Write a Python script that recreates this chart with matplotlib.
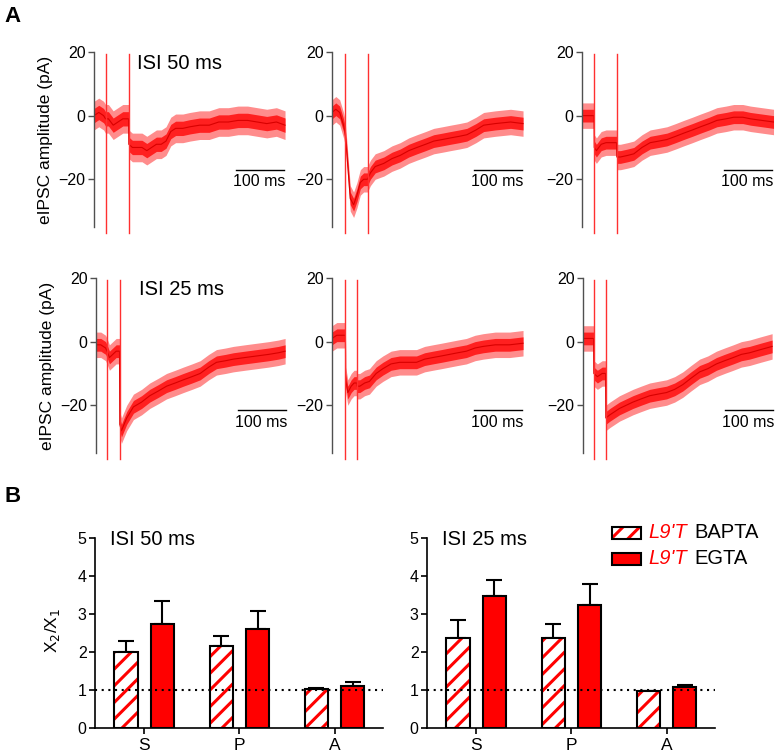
import numpy as np
import matplotlib
matplotlib.use("Agg")
import matplotlib.pyplot as plt
from matplotlib.patches import Rectangle

plt.rcParams['font.family'] = ['Liberation Sans', 'DejaVu Sans']
plt.rcParams['hatch.linewidth'] = 2.2

# --- Panel A: eIPSC traces (mean line + noise half-width) ---
trace_t = [
    [0, 10, 20, 24, 30, 40, 50, 60, 72, 72.5, 80, 90, 100, 110, 120, 130, 140, 150, 160, 170,
     185, 200, 220, 240, 260, 280, 300, 320, 340, 360, 380, 398],
    [0, 8, 16, 24, 27, 31, 38, 45, 52, 59, 66, 74, 80, 90, 108, 125, 142, 160, 177, 195, 212,
     230, 247, 265, 281, 300, 316, 340, 372, 398],
    [0, 10, 20, 25, 25.5, 30, 40, 50, 60, 72, 72.5, 80, 95, 108, 125, 142, 160, 177, 195, 212,
     230, 247, 265, 281, 300, 316, 335, 351, 375, 399],
    [0, 10, 20, 23, 28, 35, 42, 49, 49.5, 53, 64, 78, 95, 112, 130, 147, 165, 182, 200, 217,
     235, 251, 270, 286, 310, 335, 360, 380, 394],
    [0, 10, 20, 28, 28.5, 33, 40, 46, 52, 52.5, 58, 68, 78, 92, 106, 123, 141, 158, 176, 193,
     210, 228, 245, 262, 280, 298, 315, 340, 370, 398],
    [0, 10, 22, 22.5, 30, 40, 47, 47.5, 56, 66, 76, 90, 104, 121, 139, 156, 174, 191, 208, 225,
     243, 260, 278, 295, 313, 330, 347, 370, 394],
]
trace_v = [
    [0, 1, 0, -1, -1, -3, -2, -1, -1, -9, -10, -10, -10, -11, -10, -9, -9, -8, -5, -4,
     -4, -3.5, -3, -3, -2, -2, -1.5, -1.5, -2, -2.5, -2, -3],
    [1, 2, 1, -3, -5, -12, -26, -28, -25, -21, -20, -20, -18, -16, -15, -13.5, -12.5, -11, -10, -9,
     -8, -7.5, -7, -6.5, -6, -4.5, -3, -2.5, -2, -2.5],
    [0, 0, 0, 0, -10, -11, -9, -8.5, -8.5, -8.5, -13, -13, -12.5, -12, -10, -8.5, -8, -7.5, -6.5,
     -5.5, -4.5, -3.5, -2.5, -1.5, -1, -0.5, -0.5, -1, -1.5, -2],
    [-1, -1, -2, -3, -5, -4, -3, -3, -26, -28, -24, -20.5, -19, -17, -15.5, -14, -13, -12, -11,
     -10, -8, -6.5, -6, -5.5, -5, -4.5, -4, -3.5, -3],
    [1, 2, 2, 2, -12, -16, -14, -13, -13, -14, -14, -13, -12.5, -10, -8.5, -7, -6.5, -6.5, -6.5,
     -5.5, -5, -4.5, -4, -3.5, -3, -2, -1.5, -1, -1, -0.5],
    [1, 1, 1, -10, -11, -10, -10, -24, -23, -22, -21, -20, -19, -18, -17, -16.5, -16, -15, -13.5,
     -11.5, -9.5, -8.5, -7, -6, -5, -4, -3.5, -2.5, -1.5],
]
trace_noise = [4.5, 4, 4, 4, 4, 4]
stim_times = [[24, 72], [27, 74], [25, 72], [23, 49], [28, 52], [22, 47]]
row_titles = ["ISI 50 ms", "ISI 25 ms"]

# --- Panel B: paired-pulse ratios ---
categories = ["S", "P", "A"]
bapta_50 = [2.0, 2.15, 1.03]
bapta_50_err = [0.28, 0.27, 0.03]
egta_50 = [2.73, 2.6, 1.1]
egta_50_err = [0.62, 0.47, 0.1]
bapta_25 = [2.37, 2.38, 0.97]
bapta_25_err = [0.46, 0.35, 0.01]
egta_25 = [3.47, 3.25, 1.07]
egta_25_err = [0.43, 0.55, 0.07]

W, H = 775, 756
fig = plt.figure(figsize=(W / 100, H / 100), dpi=100)


def fx(px):
    return px / W


def fy(py):
    return 1 - py / H


col_left = [[94, 332, 582], [96, 332, 583]]
row_top = [52, 278]
row_bot = [227, 453]
scale_y = [-17, -21.5]

for r in range(2):
    for c in range(3):
        i = r * 3 + c
        x0 = col_left[r][c]
        ax = fig.add_axes([fx(x0), fy(row_bot[r]), 192 / W, (row_bot[r] - row_top[r]) / H])
        t = np.array(trace_t[i])
        v = np.array(trace_v[i])
        n = trace_noise[i]
        ax.fill_between(t, v - n, v + n, color='#ff8c8c', lw=0)
        ax.fill_between(t, v - n * 0.5, v + n * 0.5, color='#ff2020', lw=0)
        ax.plot(t, v, color='#d80000', lw=0.8)
        for s in stim_times[i]:
            ax.plot([s, s], [19.5, -37], color='#ff3030', lw=1.0, clip_on=False)
        ax.set_xlim(0, 400)
        ax.set_ylim(-35, 20)
        for sp in ['top', 'right', 'bottom']:
            ax.spines[sp].set_visible(False)
        ax.spines['left'].set_color('#505050')
        ax.spines['left'].set_linewidth(1.0)
        ax.set_xticks([])
        ax.set_yticks([20, 0, -20])
        ax.tick_params(axis='y', length=4, width=1, color='#505050', labelsize=11.5, pad=2)
        # scale bar
        ax.plot([295, 395], [scale_y[r], scale_y[r]], color='black', lw=1.0)
        ax.text(345, scale_y[r] - 1.5, "100 ms", ha='center', va='top', fontsize=11.5)
        if c == 0:
            ax.set_ylabel("eIPSC amplitude (pA)", fontsize=12.5)
            ax.yaxis.set_label_coords(-0.215, 0.5)
            ax.text(90, 16.5, row_titles[r], fontsize=14.5, va='center', ha='left')

fig.text(fx(4), fy(16), "A", fontsize=16, fontweight='bold', va='center', ha='left')
fig.text(fx(4), fy(497), "B", fontsize=16, fontweight='bold', va='center', ha='left')

# --- Panel B bar charts ---
bar_w = 0.25
off = 0.19
xs = np.arange(len(categories))
panels = [
    (95, bapta_50, bapta_50_err, egta_50, egta_50_err, "ISI 50 ms", True),
    (427, bapta_25, bapta_25_err, egta_25, egta_25_err, "ISI 25 ms", False),
]
for x0, b, be, e, ee, title, first in panels:
    ax = fig.add_axes([fx(x0), fy(728), 288 / W, 190 / H])
    ax.bar(xs - off, b, bar_w, color='white', edgecolor='red', hatch='//', lw=0, zorder=2)
    ax.bar(xs - off, b, bar_w, fill=False, edgecolor='black', lw=1.5, zorder=3)
    ax.bar(xs + off, e, bar_w, color='red', edgecolor='black', lw=1.5, zorder=3)
    ax.errorbar(xs - off, b, yerr=[np.zeros(3), be], fmt='none', ecolor='black',
                elinewidth=1.5, capsize=6, capthick=1.5, zorder=1)
    ax.errorbar(xs + off, e, yerr=[np.zeros(3), ee], fmt='none', ecolor='black',
                elinewidth=1.5, capsize=6, capthick=1.5, zorder=1)
    ax.axhline(1, color='black', ls=(0, (1, 2.2)), lw=1.5, zorder=5)
    ax.set_xlim(-0.52, 2.51)
    ax.set_ylim(0, 5)
    ax.set_xticks(xs)
    ax.set_xticklabels(categories, fontsize=12.5)
    ax.set_yticks(range(6))
    ax.tick_params(axis='y', length=4, width=1.2, labelsize=11.5, pad=2)
    ax.tick_params(axis='x', length=4, width=1.2, pad=3)
    for sp in ['top', 'right']:
        ax.spines[sp].set_visible(False)
    for sp in ['left', 'bottom']:
        ax.spines[sp].set_linewidth(1.2)
    ax.text(-0.36, 4.97, title, fontsize=14.5, va='center', ha='left')
    if first:
        ax.set_ylabel("X$_2$/X$_1$", fontsize=12.5)
        ax.yaxis.set_label_coords(-0.115, 0.516)

# legend drawn by hand (mixed colours in the labels)
leg_rows = [(533, True, "BAPTA"), (559, False, "EGTA")]
for yc, hatched, name in leg_rows:
    if hatched:
        fig.patches.append(Rectangle((fx(612), fy(yc + 6)), 29 / W, 12 / H, transform=fig.transFigure,
                                     facecolor='white', edgecolor='red', hatch='//', lw=0))
        fig.patches.append(Rectangle((fx(612), fy(yc + 6)), 29 / W, 12 / H, transform=fig.transFigure,
                                     fill=False, edgecolor='black', lw=1.5))
    else:
        fig.patches.append(Rectangle((fx(612), fy(yc + 6)), 29 / W, 12 / H, transform=fig.transFigure,
                                     facecolor='red', edgecolor='black', lw=1.5))
    fig.text(fx(648), fy(yc), "L9'T", color='red', fontstyle='italic', fontsize=14.5, va='center')
    fig.text(fx(694), fy(yc), name, color='black', fontsize=14.5, va='center')

fig.savefig("out.png", dpi=100)
